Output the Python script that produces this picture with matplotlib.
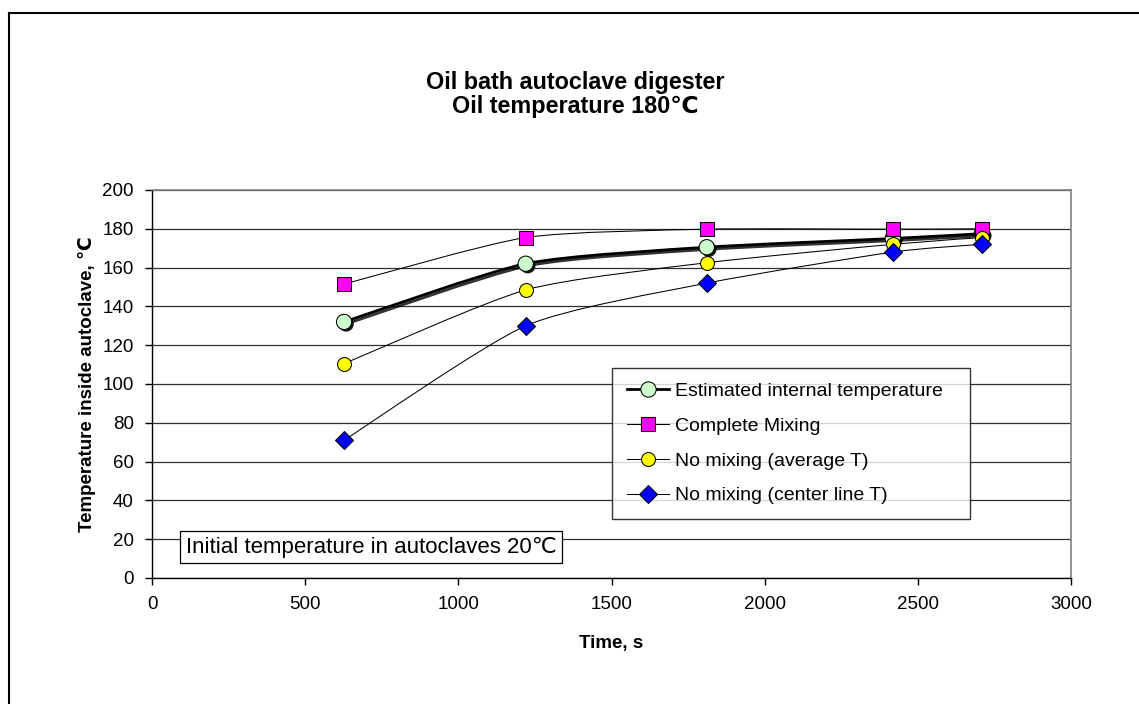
import numpy as np
import matplotlib
matplotlib.use("Agg")
import matplotlib.pyplot as plt
from matplotlib.path import Path
from matplotlib.patches import PathPatch
from matplotlib.lines import Line2D
import matplotlib.patheffects as pe

plt.rcParams['font.family'] = ['Liberation Sans', 'DejaVu Sans']

# data
time_s = [627, 1220, 1811, 2418, 2709]
estimated = [132, 162, 170.5, 175, 177.5]
complete_mixing = [151.5, 175.5, 179.8, 179.8, 180]
no_mix_avg = [110.5, 148.5, 162.5, 172, 175.5]
no_mix_center = [71, 130, 152, 168, 172]

labels = ['Estimated internal temperature', 'Complete Mixing',
          'No mixing (average T)', 'No mixing (center line T)']


def smooth_path(x, y, k=1 / 9):
    """bezier path through the points (like Excel smoothed lines)"""
    p = np.column_stack([x, y]).astype(float)
    n = len(p)
    verts = [p[0]]
    codes = [Path.MOVETO]
    for i in range(n - 1):
        p0 = p[i - 1] if i > 0 else p[i]
        p3 = p[i + 2] if i + 2 < n else p[i + 1]
        c1 = p[i] + (p[i + 1] - p0) * k
        c2 = p[i + 1] - (p3 - p[i]) * k
        verts += [c1, c2, p[i + 1]]
        codes += [Path.CURVE4] * 3
    return Path(verts, codes)


W, H = 1139, 704
fig = plt.figure(figsize=(W / 100, H / 100), dpi=100)

# chart area border (cropped on right/bottom)
fig.add_artist(Line2D([9 / W, 9 / W], [0, 1 - 13 / H], transform=fig.transFigure, color='black', lw=1.5))
fig.add_artist(Line2D([9 / W, 1], [1 - 13 / H, 1 - 13 / H], transform=fig.transFigure, color='black', lw=1.5))

ax = fig.add_axes([152 / W, (H - 578) / H, 919 / W, 388 / H])
ax.set_xlim(0, 3000)
ax.set_ylim(0, 200)
ax.set_xticks(np.arange(0, 3001, 500))
ax.set_yticks(np.arange(0, 201, 20))
ax.yaxis.grid(True, color='#303030', lw=0.9)
ax.set_axisbelow(True)
for s in ['top', 'right']:
    ax.spines[s].set_color('#808080')
    ax.spines[s].set_linewidth(1.2)
for s in ['left', 'bottom']:
    ax.spines[s].set_color('black')
    ax.spines[s].set_linewidth(1.0)
ax.tick_params(direction='out', length=5, width=1, labelsize=13.5, pad=8)

series = [
    (estimated, 'o', '#CCFFCC', 11, 2.0),
    (complete_mixing, 's', '#FF00FF', 10, 0.75),
    (no_mix_avg, 'o', '#FFFF00', 10, 0.75),
    (no_mix_center, 'D', '#0000FF', 9, 0.75),
]

handles = []
for (vals, mk, col, ms, lw), lab in zip(series, labels):
    path = smooth_path(time_s, vals)
    patch = PathPatch(path, fill=False, edgecolor='black', lw=lw, zorder=3)
    mline, = ax.plot(time_s, vals, linestyle='none', marker=mk, markersize=ms,
                     markerfacecolor=col, markeredgecolor='black', markeredgewidth=0.75,
                     zorder=4, clip_on=False)
    if mk == 'o' and lw > 1:
        patch.set_path_effects([pe.SimpleLineShadow(offset=(1.5, -1.5), shadow_color='black', alpha=0.8), pe.Normal()])
        mline.set_path_effects([pe.SimplePatchShadow(offset=(1.5, -1.5), shadow_rgbFace='black', alpha=0.9), pe.Normal()])
    ax.add_patch(patch)
    handles.append(Line2D([], [], color='black', lw=lw, marker=mk, markersize=ms,
                          markerfacecolor=col, markeredgecolor='black', markeredgewidth=0.75))

leg = ax.legend(handles, labels, loc='lower left',
                bbox_to_anchor=((612 - 152) / 919, (578 - 519) / 388, (970 - 612) / 919, 0.1),
                mode='expand', fontsize=14, frameon=True, fancybox=False, handlelength=2.2,
                handletextpad=0.3, labelspacing=0.88, borderpad=0.75, borderaxespad=0)
leg.get_frame().set_edgecolor('black')
leg.get_frame().set_linewidth(1.0)

ax.set_xlabel('Time, s', fontsize=13.5, fontweight='bold', labelpad=16)
ax.set_ylabel('Temperature inside autoclave, \u2103', fontsize=13.5, fontweight='bold', labelpad=5)

fig.text(575 / W, 1 - 82 / H, 'Oil bath autoclave digester', ha='center', va='center',
         fontsize=16.8, fontweight='bold')
fig.text(575 / W, 1 - 106 / H, 'Oil temperature 180\u2103', ha='center', va='center',
         fontsize=16.8, fontweight='bold')

fig.text(186 / W, 1 - 547 / H, 'Initial temperature in autoclaves 20\u2103', ha='left', va='center',
         fontsize=16, bbox=dict(boxstyle='square,pad=0.25', facecolor='white', edgecolor='black', lw=0.9))

fig.savefig('out.png', dpi=100)
